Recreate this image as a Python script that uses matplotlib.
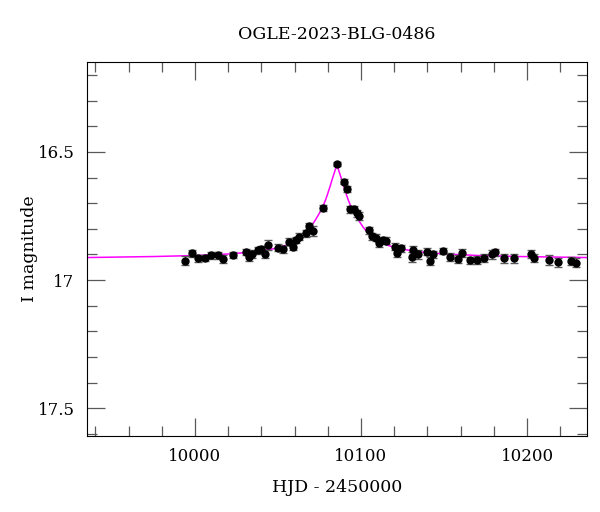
"""
    Light curve of OGLE-2023-BLG-0486 with the point-lens model
"""
import matplotlib
matplotlib.use("Agg")
import matplotlib.pyplot as plt
from matplotlib.ticker import MultipleLocator

# Photometry (HJD - 2450000, I magnitude, error)
hjd = [9994.0, 9998.0, 10002.0, 10005.8, 10009.8, 10013.9, 10016.7, 10022.7,
       10030.7, 10032.3, 10034.3, 10037.8, 10039.8, 10042.3, 10043.8, 10049.8,
       10052.8, 10056.8, 10058.9, 10060.8, 10062.8, 10066.9, 10068.9, 10070.9,
       10076.9, 10085.7, 10089.6, 10091.6, 10093.6, 10095.8, 10097.4, 10098.6,
       10104.8, 10106.6, 10108.9, 10111.0, 10113.4, 10115.1, 10120.5, 10121.5,
       10124.1, 10130.5, 10131.5, 10134.5, 10139.6, 10141.6, 10143.2, 10149.2,
       10153.6, 10158.6, 10160.7, 10165.7, 10169.7, 10174.3, 10178.7, 10180.7,
       10186.3, 10192.3, 10202.4, 10204.2, 10213.4, 10218.5, 10226.3, 10229.3]
mag = [16.925, 16.896, 16.915, 16.914, 16.904, 16.904, 16.917, 16.902,
       16.891, 16.909, 16.898, 16.883, 16.879, 16.898, 16.864, 16.874,
       16.880, 16.850, 16.870, 16.844, 16.831, 16.818, 16.789, 16.807,
       16.720, 16.548, 16.616, 16.645, 16.724, 16.723, 16.739, 16.750,
       16.805, 16.829, 16.835, 16.857, 16.844, 16.846, 16.870, 16.893,
       16.876, 16.909, 16.883, 16.900, 16.889, 16.925, 16.900, 16.886,
       16.909, 16.919, 16.893, 16.923, 16.921, 16.915, 16.900, 16.892,
       16.915, 16.915, 16.898, 16.915, 16.922, 16.930, 16.925, 16.932]
err = [0.018, 0.014, 0.013, 0.013, 0.014, 0.013, 0.015, 0.013,
       0.013, 0.015, 0.014, 0.014, 0.013, 0.016, 0.020, 0.013,
       0.013, 0.014, 0.014, 0.013, 0.013, 0.014, 0.013, 0.020,
       0.012, 0.008, 0.011, 0.011, 0.013, 0.014, 0.013, 0.014,
       0.014, 0.013, 0.013, 0.014, 0.013, 0.013, 0.014, 0.016,
       0.014, 0.019, 0.016, 0.018, 0.014, 0.016, 0.013, 0.013,
       0.016, 0.016, 0.015, 0.014, 0.015, 0.015, 0.016, 0.015,
       0.018, 0.018, 0.016, 0.016, 0.020, 0.018, 0.016, 0.017]

# Model curve
model_t = [9935.0, 9975.5, 10000.5, 10020.5, 10035.5, 10045.5, 10050.5, 10055.5,
           10059.5, 10063.5, 10066.5, 10069.5, 10071.5, 10073.5, 10075.5, 10076.5,
           10077.5, 10078.5, 10079.5, 10080.5, 10081.5, 10082.5, 10083.5, 10084.5,
           10085.0, 10085.5, 10086.0, 10086.5, 10087.5, 10088.5, 10089.5, 10090.5,
           10091.5, 10092.5, 10093.5, 10094.5, 10095.5, 10097.5, 10099.5, 10101.5,
           10104.5, 10107.5, 10111.5, 10115.5, 10120.5, 10125.5, 10135.5, 10150.5,
           10170.5, 10195.5, 10236.0]
model_mag = [16.912, 16.908, 16.904, 16.898, 16.890, 16.880, 16.873, 16.863,
             16.852, 16.836, 16.818, 16.795, 16.776, 16.755, 16.733, 16.720,
             16.706, 16.690, 16.672, 16.652, 16.632, 16.610, 16.590, 16.570,
             16.560, 16.556, 16.560, 16.570, 16.590, 16.610, 16.632, 16.652,
             16.672, 16.690, 16.706, 16.720, 16.733, 16.755, 16.776, 16.795,
             16.818, 16.836, 16.852, 16.863, 16.873, 16.880, 16.890, 16.898,
             16.904, 16.908, 16.912]

plt.rcParams['font.family'] = ['DejaVu Serif']

fig = plt.figure(figsize=(6.0, 5.12), dpi=100)
ax = fig.add_axes([0.145, 0.149, 0.833, 0.7305])

ax.plot(model_t, model_mag, color='#ff00ff', linewidth=1.1, zorder=2)
ax.errorbar(hjd, mag, yerr=err, fmt='o', color='black', markersize=5,
            ecolor='0.35', elinewidth=1.0, capsize=3, capthick=1.0, zorder=3)

ax.set_xlim(9935, 10236)
ax.set_ylim(17.607, 16.148)

ax.xaxis.set_major_locator(MultipleLocator(100))
ax.xaxis.set_minor_locator(MultipleLocator(20))
ax.yaxis.set_minor_locator(MultipleLocator(0.1))
ax.set_yticks([16.5, 17, 17.5])
ax.set_yticklabels(['16.5', '17', '17.5'])

ax.tick_params(which='both', direction='in', top=True, right=True,
               color='0.35', width=0.9, labelsize=12, pad=9)
ax.tick_params(which='major', length=13)
ax.tick_params(which='minor', length=7)

ax.set_xlabel('HJD - 2450000', fontsize=12.5, labelpad=10)
ax.set_ylabel('I magnitude', fontsize=12.5, labelpad=0)
ax.set_title('OGLE-2023-BLG-0486', fontsize=12.5, pad=16)

fig.savefig('out.png', dpi=100)
